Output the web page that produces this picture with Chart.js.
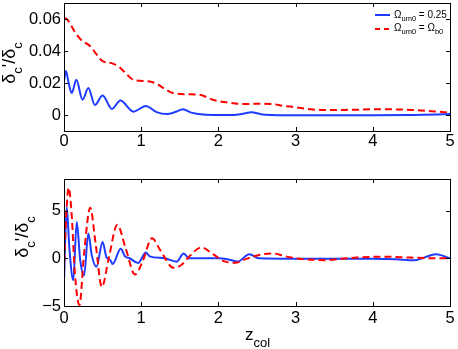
<!DOCTYPE html>
<html>
<head>
<meta charset="utf-8">
<script src="https://cdn.jsdelivr.net/npm/chart.js@4.4.1/dist/chart.umd.min.js"></script>
<style>
  html, body { margin: 0; padding: 0; background: #fff; }
  #wrap { position: relative; width: 458px; height: 349px; }
  canvas { position: absolute; left: 0; }
</style>
</head>
<body>
<div id="wrap">
  <canvas id="topChart" width="458" height="170" style="top:0"></canvas>
  <canvas id="bottomChart" width="458" height="179" style="top:170px"></canvas>
</div>
<script>
// x ticks shared by both panels
const xTicks = [0, 1, 2, 3, 4, 5];
const topYTicks = [0, 0.02, 0.04, 0.06];
const bottomYTicks = [-5, 0, 5];

// top panel, Ω_um0 = 0.25 (blue)
const topBlueX = [0, 0.026, 0.06, 0.10, 0.16, 0.24, 0.315, 0.40, 0.50, 0.62, 0.73, 0.90, 1.06, 1.20, 1.33, 1.45, 1.54, 1.65, 1.80, 2.0, 2.2, 2.32, 2.43, 2.55, 2.7, 3.0, 3.5, 4.0, 4.5, 5.0];
const topBlueY = [0.021, 0.0275, 0.020, 0.0137, 0.022, 0.0095, 0.0168, 0.0063, 0.0122, 0.0038, 0.0090, 0.0021, 0.0057, 0.0018, 0.0006, 0.0020, 0.0036, 0.0015, 0.0003, 0.0, 0.0, 0.0008, 0.0017, 0.0005, 0.0, -0.0002, -0.0002, -0.0002, 0.0, 0.0006];

// top panel, Ω_um0 = Ω_b0 (red dashed)
const topRedX = [0, 0.035, 0.08, 0.14, 0.22, 0.34, 0.42, 0.49, 0.64, 0.73, 0.82, 0.90, 1.11, 1.22, 1.29, 1.41, 1.59, 1.76, 1.93, 2.12, 2.3, 2.55, 2.69, 2.84, 2.99, 3.19, 3.33, 3.64, 4.07, 4.5, 4.8, 5.0];
const topRedY = [0.0605, 0.060, 0.057, 0.052, 0.047, 0.043, 0.038, 0.034, 0.032, 0.0294, 0.025, 0.022, 0.021, 0.019, 0.0168, 0.0137, 0.013, 0.0126, 0.0095, 0.0078, 0.0069, 0.007, 0.0069, 0.0057, 0.0049, 0.0036, 0.0032, 0.0032, 0.0036, 0.0032, 0.0022, 0.0015];

// bottom panel, blue
const botBlueX = [0, 0.035, 0.07, 0.12, 0.165, 0.21, 0.26, 0.315, 0.36, 0.42, 0.50, 0.55, 0.60, 0.63, 0.735, 0.79, 0.85, 0.96, 1.06, 1.11, 1.30, 1.46, 1.55, 1.62, 1.8, 2.0, 2.12, 2.25, 2.40, 2.52, 3.0, 3.5, 4.0, 4.3, 4.54, 4.82, 5.0];
const botBlueY = [-2.3, 5.4, 1.0, -2.3, 3.8, -0.2, -1.8, 2.6, 0.3, -0.9, 1.7, 0.1, -0.2, -0.6, 1.0, 0.2, 0.0, -0.5, 0.6, 0.2, 0.0, -0.36, 0.5, 0.0, 0.0, 0.0, -0.1, -0.35, 0.43, 0.0, -0.05, -0.05, -0.05, -0.1, -0.2, 0.43, 0.0];

// bottom panel, red dashed
const botRedX = [0, 0.02, 0.06, 0.10, 0.14, 0.20, 0.26, 0.34, 0.41, 0.49, 0.58, 0.69, 0.80, 0.92, 1.02, 1.14, 1.25, 1.42, 1.52, 1.63, 1.78, 1.93, 2.07, 2.22, 2.37, 2.58, 2.71, 2.88, 3.05, 3.2, 3.4, 3.6, 3.79, 4.1, 4.48, 4.78, 5.0];
const botRedY = [-1.5, 3.0, 7.4, 4.5, -1.5, -4.9, 0.5, 5.3, 1.5, -3.0, 0.0, 3.5, 1.0, -1.7, -0.3, 2.1, 0.8, -1.0, -0.7, 0.25, 1.14, 0.43, -0.3, -0.47, -0.04, 0.43, 0.5, 0.17, -0.05, -0.15, -0.2, -0.05, 0.07, 0.17, 0.07, 0.0, 0.0];

const FONT = '"Liberation Sans", Arial, Helvetica, sans-serif';
const BLUE = "rgb(30,60,255)";
const RED = "rgb(255,0,0)";
const DASH = [7, 4];

function points(xs, ys) {
  return xs.map((x, i) => ({ x, y: ys[i] }));
}

// text with subscripts; parts = [{t, sub}]
function richWidth(ctx, parts, size, subSize) {
  let w = 0;
  parts.forEach(p => {
    ctx.font = `${p.sub ? subSize : size}px ${FONT}`;
    w += ctx.measureText(p.t).width;
  });
  return w;
}
function drawRich(ctx, parts, x, y, size, subSize, drop) {
  let cx = x;
  parts.forEach(p => {
    ctx.font = `${p.sub ? subSize : size}px ${FONT}`;
    ctx.fillText(p.t, cx, p.sub ? y + drop : y);
    cx += ctx.measureText(p.t).width;
  });
}

const yLabelParts = [{ t: "δ" }, { t: "c", sub: true }, { t: "'/δ" }, { t: "c", sub: true }];

const framePlugin = {
  id: "frame",
  afterDraw(chart, args, opts) {
    const { ctx, chartArea: a, scales } = chart;
    ctx.save();
    ctx.lineWidth = 1;
    ctx.strokeStyle = "#000";
    const tl = 4;
    ctx.beginPath();
    xTicks.forEach(v => {
      const px = Math.round(scales.x.getPixelForValue(v)) + 0.5;
      ctx.moveTo(px, a.bottom); ctx.lineTo(px, a.bottom - tl);
      ctx.moveTo(px, a.top); ctx.lineTo(px, a.top + tl);
    });
    opts.yTicks.forEach(v => {
      const py = Math.round(scales.y.getPixelForValue(v)) + 0.5;
      ctx.moveTo(a.left, py); ctx.lineTo(a.left + tl, py);
      ctx.moveTo(a.right, py); ctx.lineTo(a.right - tl, py);
    });
    ctx.stroke();
    ctx.strokeRect(a.left + 0.5, a.top + 0.5, a.right - a.left, a.bottom - a.top);

    // y axis title, rotated
    ctx.fillStyle = "#000";
    ctx.textBaseline = "alphabetic";
    ctx.translate(opts.yLabelX, opts.yLabelY);
    ctx.rotate(-Math.PI / 2);
    const w = richWidth(ctx, yLabelParts, 18, 13);
    drawRich(ctx, yLabelParts, -w / 2, 0, 18, 13, 7);
    ctx.restore();

    if (opts.xLabel) {
      ctx.save();
      ctx.fillStyle = "#000";
      drawRich(ctx, [{ t: "z" }, { t: "col", sub: true }], 245, 170, 17, 13, 6.5);
      ctx.restore();
    }

    if (opts.legend) {
      ctx.save();
      ctx.lineWidth = 2;
      ctx.strokeStyle = BLUE;
      ctx.beginPath(); ctx.moveTo(375, 15); ctx.lineTo(390, 15); ctx.stroke();
      ctx.strokeStyle = RED;
      ctx.setLineDash([5, 4]);
      ctx.beginPath(); ctx.moveTo(375, 29); ctx.lineTo(390, 29); ctx.stroke();
      ctx.fillStyle = "#000";
      drawRich(ctx, [{ t: "Ω" }, { t: "um0", sub: true }, { t: " = 0.25" }], 394, 18, 10, 7.5, 2.5);
      drawRich(ctx, [{ t: "Ω" }, { t: "um0", sub: true }, { t: " = Ω" }, { t: "b0", sub: true }], 394, 31, 10, 7.5, 2.5);
      ctx.restore();
    }
  }
};

// keep tick labels from pushing the plot area around
function noPad(s) {
  s.paddingTop = 0; s.paddingBottom = 0; s.paddingLeft = 0; s.paddingRight = 0;
}

function makeOptions(yMin, yMax, yTicks, xAxisHeight, topPad, fmt, frameOpts) {
  return {
    responsive: false,
    animation: false,
    layout: { padding: { left: 0, right: 8, top: topPad, bottom: 0 }, autoPadding: false },
    plugins: { legend: { display: false }, tooltip: { enabled: false }, frame: frameOpts },
    elements: { point: { radius: 0 }, line: { borderWidth: 2, cubicInterpolationMode: "monotone" } },
    scales: {
      x: {
        type: "linear", min: 0, max: 5,
        grid: { display: false, drawTicks: false }, border: { display: false },
        afterBuildTicks: s => { s.ticks = xTicks.map(v => ({ value: v })); },
        afterFit: s => { s.height = xAxisHeight; noPad(s); },
        ticks: { color: "#000", font: { family: FONT, size: 16.5 }, padding: frameOpts.xPad, maxRotation: 0, autoSkip: false, callback: v => String(v) }
      },
      y: {
        type: "linear", min: yMin, max: yMax,
        grid: { display: false, drawTicks: false }, border: { display: false },
        afterBuildTicks: s => { s.ticks = yTicks.map(v => ({ value: v })); },
        afterFit: s => { s.width = 64; noPad(s); },
        ticks: { color: "#000", font: { family: FONT, size: 16.5 }, padding: 3, autoSkip: false, callback: fmt }
      }
    }
  };
}

new Chart(document.getElementById("topChart"), {
  type: "line",
  data: {
    datasets: [
      { label: "Ω_um0 = 0.25", data: points(topBlueX, topBlueY), borderColor: BLUE, order: 1 },
      { label: "Ω_um0 = Ω_b0", data: points(topRedX, topRedY), borderColor: RED, borderDash: DASH, order: 0 }
    ]
  },
  options: makeOptions(-0.01, 0.07, topYTicks, 39, 3,
    v => (v === 0 ? "0" : v.toFixed(2)),
    { yTicks: topYTicks, yLabelX: 15, yLabelY: 63, legend: true, xPad: 1 }),
  plugins: [framePlugin]
});

new Chart(document.getElementById("bottomChart"), {
  type: "line",
  data: {
    datasets: [
      { label: "Ω_um0 = 0.25", data: points(botBlueX, botBlueY), borderColor: BLUE, order: 1 },
      { label: "Ω_um0 = Ω_b0", data: points(botRedX, botRedY), borderColor: RED, borderDash: DASH, order: 0 }
    ]
  },
  options: makeOptions(-5, 8.3, bottomYTicks, 43, 9,
    v => (v < 0 ? "\u2212" + Math.abs(v) : String(v)),
    { yTicks: bottomYTicks, yLabelX: 28, yLabelY: 67, xLabel: true, xPad: 3 }),
  plugins: [framePlugin]
});
</script>
</body>
</html>
